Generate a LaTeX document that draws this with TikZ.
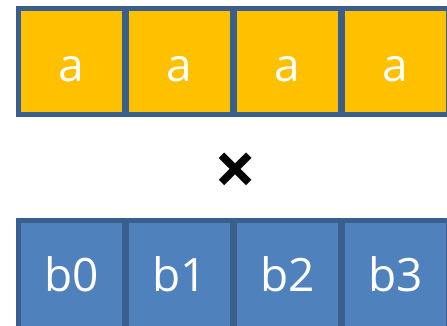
\documentclass[tikz,border=0pt]{standalone}
\usepackage{fontspec}
\setmainfont{Open Sans}
\definecolor{ayellow}{HTML}{FFC000}
\definecolor{bblue}{HTML}{4F81BD}
\definecolor{edge}{HTML}{3A5F8F}
\begin{document}
\begin{tikzpicture}[x=1pt,y=1pt,
  cell/.style={draw=edge,line width=4.5pt,minimum width=106pt,
    inner sep=0pt,outer sep=0pt,anchor=north west},
  acell/.style={cell,fill=ayellow,minimum height=106pt},
  bcell/.style={cell,fill=bblue,minimum height=114pt},
  lab/.style={text=white,font=\fontsize{46}{50}\selectfont,inner sep=0pt,anchor=base}]
\useasboundingbox (0,0) rectangle (447,325);
\begin{scope}
\clip (0,0) rectangle (447,325);
\foreach \i in {0,1,2,3}{
  \node[acell] (a\i) at ({18.5+108*\i},{325-8.5}) {};
  \node[lab] (ta\i) at ({71.5+108*\i},{325-81}) {a};
}
\foreach \i in {0,1,2,3}{
  \node[bcell] (b\i) at ({18.5+108*\i},{325-220.5}) {};
  \node[lab] (tb\i) at ({71.5+108*\i},{325-291.7}) {b\i};
}
\end{scope}
\node[font=\bfseries\fontsize{74}{74}\selectfont,inner sep=0pt] (times) at (236,{325-174}) {×};
\end{tikzpicture}
\end{document}
